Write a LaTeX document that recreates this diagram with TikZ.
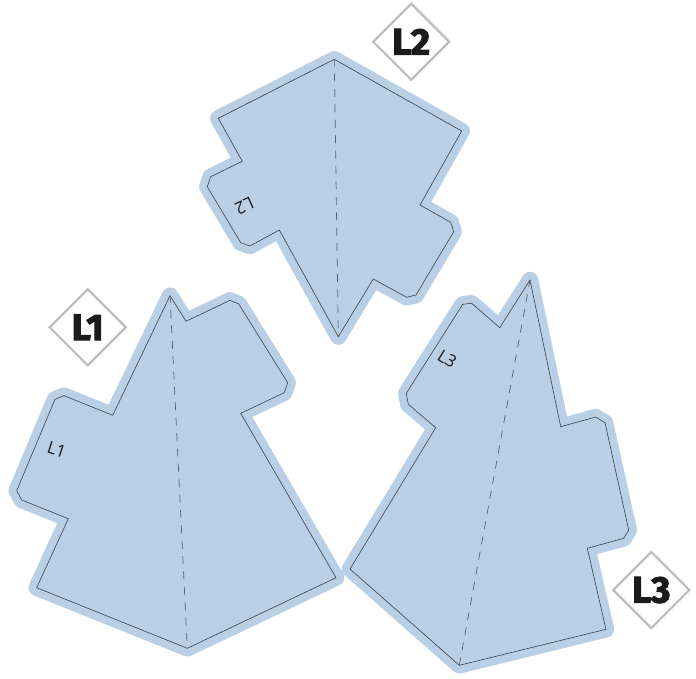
\documentclass[tikz,border=0pt]{standalone}
\usepackage{fontspec}
\setsansfont{Open Sans}
\newfontfamily\tagfont{Fira Sans}[BoldFeatures={FakeBold=3}]
\definecolor{panelblue}{HTML}{B8CFE5}
\definecolor{tagrim}{HTML}{BDBDBD}
\definecolor{tagink}{HTML}{1C1A1B}
\definecolor{cutline}{HTML}{3A4148}
\definecolor{foldgray}{HTML}{56616D}
\newcommand*{\tagsize}{38.5pt}
\tikzset{
  panel/.style = {fill=panelblue, draw=panelblue, line width=16.5pt, line join=round},
  cutedge/.style = {draw=cutline, line width=0.6pt, line join=miter},
  foldline/.style = {draw=foldgray, line width=0.7pt, dash pattern=on 8pt off 7.4pt, dash phase=1pt},
  tagbox/.style = {diamond, draw=tagrim, line width=2.2pt, fill=white, inner sep=0pt,
                   minimum width=2*\tagsize, minimum height=2*\tagsize},
  smalltag/.style = {text=tagink, font=\sffamily\fontsize{17}{17}\selectfont, inner sep=0pt},
  bigtag/.style = {text=tagink, font=\tagfont\bfseries\fontsize{37}{37}\selectfont, inner sep=0pt}
}
\usetikzlibrary{shapes.geometric}
\begin{document}
\begin{tikzpicture}[x=1pt, y=-1pt]
    \useasboundingbox (0,0) rectangle (696,679);
    % panel L2
    \newcommand*{\outlineB}{(334.3,59.3) -- (461.7,131) -- (420,205) -- (450.7,222.3) -- (453.7,231.7) -- (416,295) -- (406.7,297.3) -- (373.3,279) -- (338.3,336.7) -- (279.3,230) -- (250,246) -- (240.7,242.7) -- (207.3,186.7) -- (210.7,176.7) -- (242.3,161.3) -- (218.3,118.3) -- cycle}
    \path [panel] \outlineB;
    \path [cutedge] \outlineB;
    \coordinate (topB) at (334.3,59.3);
    \coordinate (tipB) at (338.3,336.7);
    \draw [foldline] (topB) -- (tipB);
    % panel L1
    \newcommand*{\outlineA}{(170,295.7) -- (186,321.3) -- (230,300.3) -- (238.7,304) -- (287.7,382.7) -- (284.3,392.7) -- (240.7,413.3) -- (336,577.7) -- (187.3,648.3) -- (36.7,587.7) -- (68.3,518.7) -- (21.7,500) -- (16.7,490.7) -- (55,399.3) -- (64,395.7) -- (112.7,415.3) -- cycle}
    \path [panel] \outlineA;
    \path [cutedge] \outlineA;
    \coordinate (topA) at (170,295.7);
    \coordinate (tipA) at (187.3,648.3);
    \draw [foldline] (topA) -- (tipA);
    % panel L3
    \newcommand*{\outlineC}{(530,280) -- (560.7,426.7) -- (595.7,417) -- (605,422.7) -- (628.7,530) -- (623.7,538.3) -- (587.3,548.3) -- (606,629.3) -- (459.3,665.3) -- (350,569) -- (435.7,427.7) -- (408.3,404.3) -- (406.3,393.3) -- (462.7,304.3) -- (471.7,303.3) -- (499.7,327.7) -- cycle}
    \path [panel] \outlineC;
    \path [cutedge] \outlineC;
    \coordinate (topC) at (530,280);
    \coordinate (tipC) at (459.3,665.3);
    \draw [foldline] (topC) -- (tipC);
    % labels on the tabs
    \node [smalltag, rotate=-18] (nameA) at (56.7,449.7) {L1};
    \node [smalltag, rotate=204] (nameB) at (244.5,206) {L2};
    \node [smalltag, rotate=-32] (nameC) at (447.3,359) {L3};
    % diamonds
    \node [tagbox] (tagA) at (87.7,327.3) {};
    \node [tagbox] (tagB) at (411.2,41.8) {};
    \node [tagbox] (tagC) at (651.3,590) {};
    \node [bigtag] (textA) at (tagA) {L1};
    \node [bigtag] (textB) at (tagB) {L2};
    \node [bigtag] (textC) at (tagC) {L3};
\end{tikzpicture}
\end{document}
